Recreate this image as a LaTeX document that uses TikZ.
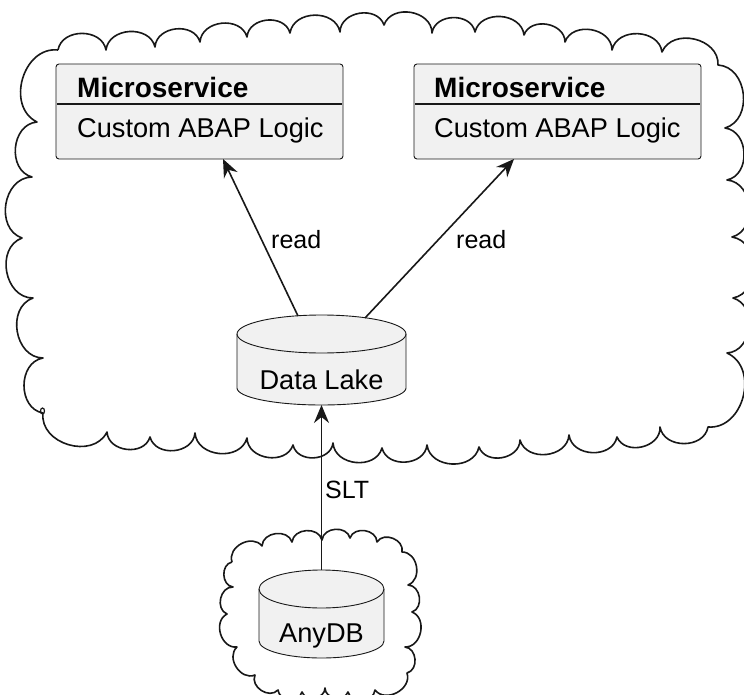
\documentclass[tikz,border=0pt]{standalone}
\usepackage{fontspec}
\setmainfont{Liberation Sans}
\usetikzlibrary{arrows.meta}
\definecolor{boxfill}{HTML}{F1F1F1}
\definecolor{ink}{HTML}{181818}
\tikzset{
  x=1pt, y=1pt,
  puff/.style={bend left=80, looseness=1.2},
  cloudline/.style={draw=ink, line width=1.6pt, line join=round},
  msbox/.style={draw=ink, fill=boxfill, line width=0.9pt, rounded corners=3pt,
    minimum width=287pt, minimum height=95pt, inner sep=0pt, outer sep=0pt},
  divider/.style={draw=ink, line width=2pt},
  dbshape/.style={draw=ink, fill=boxfill, line width=0.9pt},
  dbanchor/.style={inner sep=0pt, outer sep=0pt},
  nodetext/.style={font=\fontsize{27.2}{32}\selectfont, inner sep=0pt, text=black},
  titletext/.style={font=\fontsize{28}{33}\selectfont\bfseries, inner sep=0pt, text=black},
  edgelabel/.style={font=\fontsize{25}{30}\selectfont, inner sep=0pt, text=black},
  flow/.style={draw=ink, line width=1.6pt,
    -{Stealth[length=18pt, width=15pt, inset=6pt]}},
}
\begin{document}
\begin{tikzpicture}
\useasboundingbox (0,0) rectangle (744,-695);
\fill[white] (0,0) rectangle (744,-695);
\clip (0,0) rectangle (744,-695);

% outer cloud
\draw[cloudline]
  (58,-50) to[puff] (106,-50) to[puff] (155,-47) to[puff] (200,-42)
  to[puff] (247,-37) to[puff] (290,-33) to[puff] (340,-32) to[puff] (384,-25)
  to[puff] (432,-33) to[puff] (475,-32) to[puff] (524,-35) to[puff] (565,-42)
  to[puff] (612,-50) to[puff] (662,-52) to[puff] (718,-65) to[puff] (725,-128)
  to[puff] (727,-180) to[puff] (732,-237) to[puff] (733,-298) to[puff] (727,-353)
  to[puff] (708,-427) to[puff] (660,-427) to[puff] (617,-437) to[puff] (569,-435)
  to[puff] (520,-440) to[puff] (479,-447) to[puff] (427,-445) to[puff] (382,-448)
  to[puff] (333,-443) to[puff] (293,-445) to[puff] (247,-438) to[puff] (195,-433)
  to[puff] (150,-437) to[puff] (107,-432) to[puff] (43,-413) to[puff] (43,-358)
  to[puff] (33,-298) to[puff] (22,-238) to[puff] (32,-177) to[puff] (37,-122)
  to[puff] (58,-50);
\draw[draw=ink, line width=1.2pt] (42.5,-411) ellipse (2 and 3);

% inner cloud
\draw[cloudline]
  (232,-562) to[puff] (262,-546) to[puff] (292,-542) to[puff] (322,-540)
  to[puff] (350,-538) to[puff] (377,-542) to[puff] (402,-552) to[puff] (408,-585)
  to[puff] (412,-612) to[puff] (405,-647) to[puff] (407,-673) to[puff] (375,-690)
  to[puff] (348,-692) to[puff] (325,-688) to[puff] (302,-692) to[puff] (278,-690)
  to[puff] (255,-675) to[puff] (237,-647) to[puff] (227,-614) to[puff] (233,-587)
  to[puff] (232,-562);

% microservice boxes
\node[msbox] (ms1) at (199.5,-111.5) {};
\node[msbox] (ms2) at (557.5,-111.5) {};
\draw[divider] (57,-104) -- (342,-104);
\draw[divider] (415,-104) -- (700,-104);
\node[titletext, anchor=base west] (ms1title) at (77,-98) {Microservice};
\node[nodetext, anchor=base west] (ms1body) at (77,-138) {Custom ABAP Logic};
\node[titletext, anchor=base west] (ms2title) at (434,-98) {Microservice};
\node[nodetext, anchor=base west] (ms2body) at (434,-138) {Custom ABAP Logic};

% Data Lake cylinder
\node[dbanchor, minimum width=169pt, minimum height=90pt] (lake) at (321.5,-360) {};
\filldraw[dbshape] (237,-334) -- (237,-388)
  arc[start angle=180, end angle=360, x radius=84.5, y radius=17]
  -- (406,-334)
  arc[start angle=0, end angle=180, x radius=84.5, y radius=19] -- cycle;
\draw[dbshape, fill=none] (237,-334)
  arc[start angle=180, end angle=360, x radius=84.5, y radius=19];
\node[nodetext, anchor=base] (laketext) at (321.5,-389) {Data Lake};

% AnyDB cylinder
\node[dbanchor, minimum width=125pt, minimum height=88pt] (anydb) at (321.5,-614) {};
\filldraw[dbshape] (259,-589) -- (259,-641)
  arc[start angle=180, end angle=360, x radius=62.5, y radius=17]
  -- (384,-589)
  arc[start angle=0, end angle=180, x radius=62.5, y radius=19] -- cycle;
\draw[dbshape, fill=none] (259,-589)
  arc[start angle=180, end angle=360, x radius=62.5, y radius=19];
\node[nodetext, anchor=base] (anytext) at (321.5,-642) {AnyDB};

% connectors
\draw[flow] ([xshift=-23.5pt, yshift=-1pt]lake.north) -- ([xshift=23.5pt]ms1.south);
\draw[flow] ([xshift=43.5pt, yshift=-3pt]lake.north) -- ([xshift=-43.5pt]ms2.south);
\draw[flow] (anydb.north) -- (lake.south);

% connector labels
\node[edgelabel, anchor=base west] (read1) at (271,-248) {read};
\node[edgelabel, anchor=base west] (read2) at (456,-248) {read};
\node[edgelabel, anchor=base west] (slt) at (325,-498) {SLT};
\end{tikzpicture}
\end{document}
